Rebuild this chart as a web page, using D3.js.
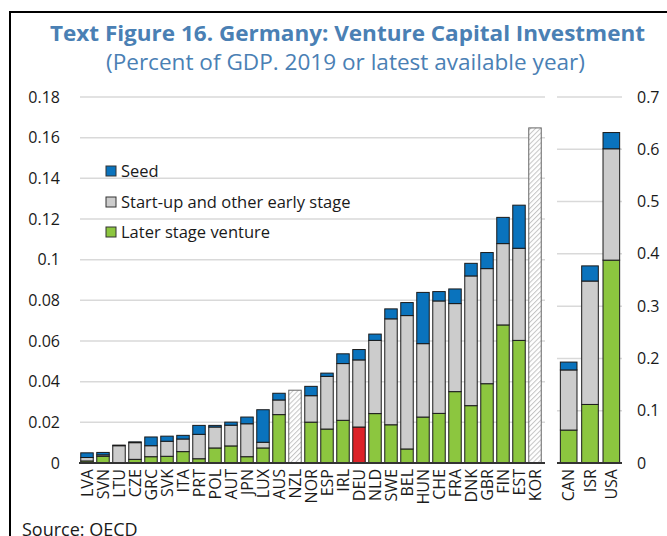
<!DOCTYPE html>
<meta charset="utf-8">
<style>
  html, body {
      margin: 0;
      padding: 0;
      background: #fff;
      overflow: hidden;
  }
  text {
      font-family: "Open Sans", "Noto Sans", sans-serif;
      fill: #1a1a1a;
  }
  .grid {
      stroke: #d9d9d9;
      stroke-width: 1.5px;
  }
  .seg {
      stroke: #1a1a1a;
      stroke-width: 1px;
  }
</style>
<body>
</body>
<script src="https://cdn.jsdelivr.net/npm/d3@7"></script>
<script>

  var width = 667;
  var height = 536;

  /* OECD members, ordered by total */
  var leftCountries = ["LVA", "SVN", "LTU", "CZE", "GRC", "SVK", "ITA", "PRT", "POL", "AUT",
                       "JPN", "LUX", "AUS", "NZL", "NOR", "ESP", "IRL", "DEU", "NLD", "SWE",
                       "BEL", "HUN", "CHE", "FRA", "DNK", "GBR", "FIN", "EST", "KOR"];
  var leftLater = [0.0010, 0.0033, 0.0000, 0.0018, 0.0031, 0.0033, 0.0056, 0.0021, 0.0074, 0.0084,
                   0.0031, 0.0074, 0.0238, null, 0.0201, 0.0167, 0.0210, 0.0177, 0.0243, 0.0188,
                   0.0069, 0.0226, 0.0244, 0.0351, 0.0282, 0.0390, 0.0679, 0.0603, null];
  var leftStartup = [0.0017, 0.0007, 0.0085, 0.0082, 0.0054, 0.0074, 0.0062, 0.0120, 0.0103, 0.0102,
                     0.0162, 0.0028, 0.0072, null, 0.0130, 0.0259, 0.0279, 0.0330, 0.0360, 0.0521,
                     0.0656, 0.0361, 0.0553, 0.0433, 0.0638, 0.0566, 0.0400, 0.0453, null];
  var leftSeed = [0.0023, 0.0012, 0.0003, 0.0004, 0.0043, 0.0025, 0.0018, 0.0044, 0.0008, 0.0015,
                  0.0033, 0.0160, 0.0033, null, 0.0046, 0.0016, 0.0048, 0.0051, 0.0031, 0.0049,
                  0.0064, 0.0252, 0.0046, 0.0072, 0.0062, 0.0079, 0.0129, 0.0212, null];
  // no breakdown available, total only (hatched)
  var totalOnly = {NZL: 0.0358, KOR: 0.1648};

  var rightCountries = ["CAN", "ISR", "USA"];
  var rightLater = [0.063, 0.112, 0.388];
  var rightStartup = [0.115, 0.236, 0.213];
  var rightSeed = [0.015, 0.029, 0.031];

  var leftTicks = [0, 0.02, 0.04, 0.06, 0.08, 0.1, 0.12, 0.14, 0.16, 0.18];
  var rightTicks = [0, 0.1, 0.2, 0.3, 0.4, 0.5, 0.6, 0.7];

  var seriesNames = ["Seed", "Start-up and other early stage", "Later stage venture"];
  var seriesColors = ["#0a73bd", "#cccccc", "#8cc63f"];
  var highlight = "DEU", highlightColor = "#dc2228";

  var svg = d3.select("body").append("svg")
      .attr("width", width)
      .attr("height", height);

  var defs = svg.append("defs");
  var pat = defs.append("pattern")
      .attr("id", "hatch")
      .attr("patternUnits", "userSpaceOnUse")
      .attr("width", 3.5)
      .attr("height", 3.5)
      .attr("patternTransform", "rotate(45)");
  pat.append("rect").attr("width", 3.5).attr("height", 3.5).attr("fill", "#fff");
  pat.append("line").attr("x1", 0).attr("y1", 0).attr("x2", 0).attr("y2", 3.5)
      .attr("stroke", "#c4c4c4").attr("stroke-width", 2);

  /* frame */
  svg.append("rect")
      .attr("x", 10).attr("y", 12)
      .attr("width", 700).attr("height", 600)
      .attr("fill", "none")
      .attr("stroke", "#000")
      .attr("stroke-width", 2);

  /* titles */
  svg.append("text")
      .attr("x", 50).attr("y", 41)
      .attr("textLength", 595)
      .attr("lengthAdjust", "spacingAndGlyphs")
      .style("font-size", "22px")
      .style("font-weight", "bold")
      .style("fill", "#4a80b4")
      .text("Text Figure 16. Germany: Venture Capital Investment");
  svg.append("text")
      .attr("x", 106).attr("y", 70)
      .attr("textLength", 479)
      .attr("lengthAdjust", "spacingAndGlyphs")
      .style("font-size", "21px")
      .style("fill", "#4a80b4")
      .text("(Percent of GDP. 2019 or latest available year)");

  var y0 = 463, y1 = 97;
  var yL = d3.scaleLinear().domain([0, 0.18]).range([y0, y1]);
  var yR = d3.scaleLinear().domain([0, 0.7]).range([y0, y1]);

  var xL = d3.scaleBand().domain(leftCountries).range([79, 543])
      .paddingInner(0.22).paddingOuter(0.11);
  var xR = d3.scaleBand().domain(rightCountries).range([558, 622])
      .paddingInner(0.22).paddingOuter(0.11);

  /* grid + tick labels */
  svg.selectAll(".gridL").data(leftTicks.slice(1)).enter().append("line")
      .attr("class", "grid")
      .attr("x1", 80).attr("x2", 545)
      .attr("y1", d => yL(d)).attr("y2", d => yL(d));
  svg.selectAll(".gridR").data(rightTicks.slice(1)).enter().append("line")
      .attr("class", "grid")
      .attr("x1", 557).attr("x2", 622)
      .attr("y1", d => yR(d)).attr("y2", d => yR(d));

  var fmt = d => String(+d.toFixed(2));
  svg.selectAll(".tickL").data(leftTicks).enter().append("text")
      .attr("x", 60).attr("y", d => yL(d))
      .attr("dy", "0.35em")
      .attr("text-anchor", "end")
      .style("font-size", "16px")
      .text(fmt);
  svg.selectAll(".tickR").data(rightTicks).enter().append("text")
      .attr("x", 637).attr("y", d => yR(d))
      .attr("dy", "0.35em")
      .style("font-size", "16px")
      .text(fmt);

  /* legend */
  var leg = svg.selectAll(".leg").data(seriesNames).enter().append("g")
      .attr("transform", (d, i) => "translate(106," + [171, 202, 232][i] + ")");
  leg.append("rect")
      .attr("x", 0).attr("y", -5)
      .attr("width", 10).attr("height", 10)
      .attr("fill", (d, i) => seriesColors[i])
      .attr("stroke", "#333");
  leg.append("text")
      .attr("x", 15).attr("dy", "0.35em")
      .style("font-size", "16.5px")
      .text(d => d);

  /* stacked bars */
  function stackRows(countries, later, startup, seed) {
      return countries.map((c, i) => {
          var segs = [];
          if (later[i] == null) return {c: c, segs: segs};
          var vals = [later[i], startup[i], seed[i]];
          var base = 0;
          vals.forEach((v, k) => {
              var col = seriesColors[2 - k];
              if (k == 0 && c == highlight) col = highlightColor;
              segs.push({lo: base, hi: base + v, color: col});
              base += v;
          });
          return {c: c, segs: segs};
      });
  }

  function drawBars(rows, x, y) {
      var g = svg.append("g");
      rows.forEach(r => {
          if (totalOnly[r.c] != null) {
              g.append("rect")
                  .attr("x", x(r.c)).attr("width", x.bandwidth())
                  .attr("y", y(totalOnly[r.c]))
                  .attr("height", y(0) - y(totalOnly[r.c]))
                  .attr("fill", "url(#hatch)")
                  .attr("stroke", "#666")
                  .attr("stroke-width", 1);
              return;
          }
          g.selectAll(null).data(r.segs).enter().append("rect")
              .attr("class", "seg")
              .attr("x", x(r.c)).attr("width", x.bandwidth())
              .attr("y", d => y(d.hi))
              .attr("height", d => y(d.lo) - y(d.hi))
              .attr("fill", d => d.color);
      });
  }

  drawBars(stackRows(leftCountries, leftLater, leftStartup, leftSeed), xL, yL);
  drawBars(stackRows(rightCountries, rightLater, rightStartup, rightSeed), xR, yR);

  /* baselines */
  svg.append("line").attr("x1", 79).attr("x2", 545).attr("y1", y0).attr("y2", y0)
      .attr("stroke", "#333").attr("stroke-width", 2);
  svg.append("line").attr("x1", 557).attr("x2", 622).attr("y1", y0).attr("y2", y0)
      .attr("stroke", "#333").attr("stroke-width", 2);

  /* category labels */
  function catLabels(countries, x) {
      svg.selectAll(null).data(countries).enter().append("text")
          .attr("transform", d => "translate(" + (x(d) + x.bandwidth() / 2) + ",469) rotate(-90)")
          .attr("dy", "0.36em")
          .attr("text-anchor", "end")
          .style("font-size", "16px")
          .text(d => d);
  }
  catLabels(leftCountries, xL);
  catLabels(rightCountries, xR);

  svg.append("text")
      .attr("x", 22).attr("y", 536)
      .style("font-size", "18px")
      .text("Source: OECD");

</script>
